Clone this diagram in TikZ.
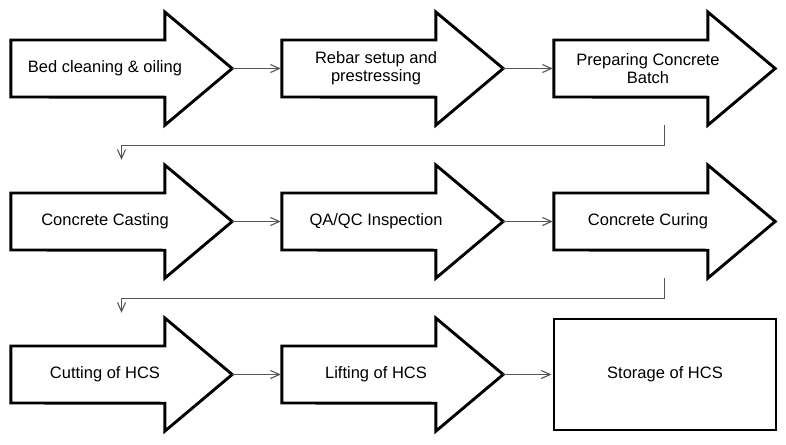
\documentclass[tikz,border=0pt]{standalone}
\usepackage{fontspec}
\setmainfont{Liberation Sans}
\usetikzlibrary{arrows.meta, calc}
\definecolor{flowgray}{RGB}{85,85,85}

\begin{document}
\begin{tikzpicture}[x=1pt,y=-1pt,
  stepbox/.style={minimum width=221pt,minimum height=113pt,inner sep=0pt},
  steptext/.style={font=\fontsize{16.5}{18}\selectfont,align=center},
  stepline/.style={line width=2.9pt,line join=miter},
  flow/.style={flowgray,line width=1.1pt,shorten >=1pt,-{Straight Barb[length=9pt,width=8pt]}}]
  \useasboundingbox (0,0) rectangle (786,444);
  % step frames
  \node[stepbox] (bed)     at (121.5,68.5)  {};
  \node[stepbox] (rebar)   at (392.5,68.5)  {};
  \node[stepbox] (prep)    at (664.5,68.5)  {};
  \node[stepbox] (casting) at (121.5,221.5) {};
  \node[stepbox] (qaqc)    at (392.5,221.5) {};
  \node[stepbox] (curing)  at (664.5,221.5) {};
  \node[stepbox] (cutting) at (121.5,374.5) {};
  \node[stepbox] (lifting) at (392.5,374.5) {};
  % block arrows
  \foreach \n in {bed,rebar,prep,casting,qaqc,curing,cutting,lifting}
    \draw[stepline] ($(\n.west)+(0,-28.5)$) -- ++(154,0) -- ++(0,-28)
      -- (\n.east) -- ($(\n.south west)+(154,0)$) -- ++(0,-28)
      -- ($(\n.west)+(0,28.5)$) -- cycle;
  % texts
  \node[steptext] (bedtxt)     at ([xshift=-16.5pt]bed.center)     {Bed cleaning \& oiling};
  \node[steptext] (rebartxt)   at ([xshift=-16.5pt]rebar.center)   {Rebar setup and\\prestressing};
  \node[steptext] (preptxt)    at ([xshift=-16.5pt]prep.center)    {Preparing Concrete\\Batch};
  \node[steptext] (castingtxt) at ([xshift=-16.5pt]casting.center) {Concrete Casting};
  \node[steptext] (qaqctxt)    at ([xshift=-16.5pt]qaqc.center)    {QA/QC Inspection};
  \node[steptext] (curingtxt)  at ([xshift=-16.5pt]curing.center)  {Concrete Curing};
  \node[steptext] (cuttingtxt) at ([xshift=-16.5pt]cutting.center) {Cutting of HCS};
  \node[steptext] (liftingtxt) at ([xshift=-16.5pt]lifting.center) {Lifting of HCS};
  % last step
  \node[stepbox,steptext,draw,line width=2.9pt,minimum width=222pt,minimum height=111pt]
    (storage) at (665,374.5) {Storage of HCS};
  % connectors
  \draw[flow] (bed.east) -- (rebar.west);
  \draw[flow] (rebar.east) -- (prep.west);
  \draw[flow] (prep.south) -- ++(0,20) -| ([yshift=4pt]casting.north);
  \draw[flow] (casting.east) -- (qaqc.west);
  \draw[flow] (qaqc.east) -- (curing.west);
  \draw[flow] (curing.south) -- ++(0,20) -| ([yshift=4pt]cutting.north);
  \draw[flow] (cutting.east) -- (lifting.west);
  \draw[flow] (lifting.east) -- (storage.west);
\end{tikzpicture}
\end{document}
